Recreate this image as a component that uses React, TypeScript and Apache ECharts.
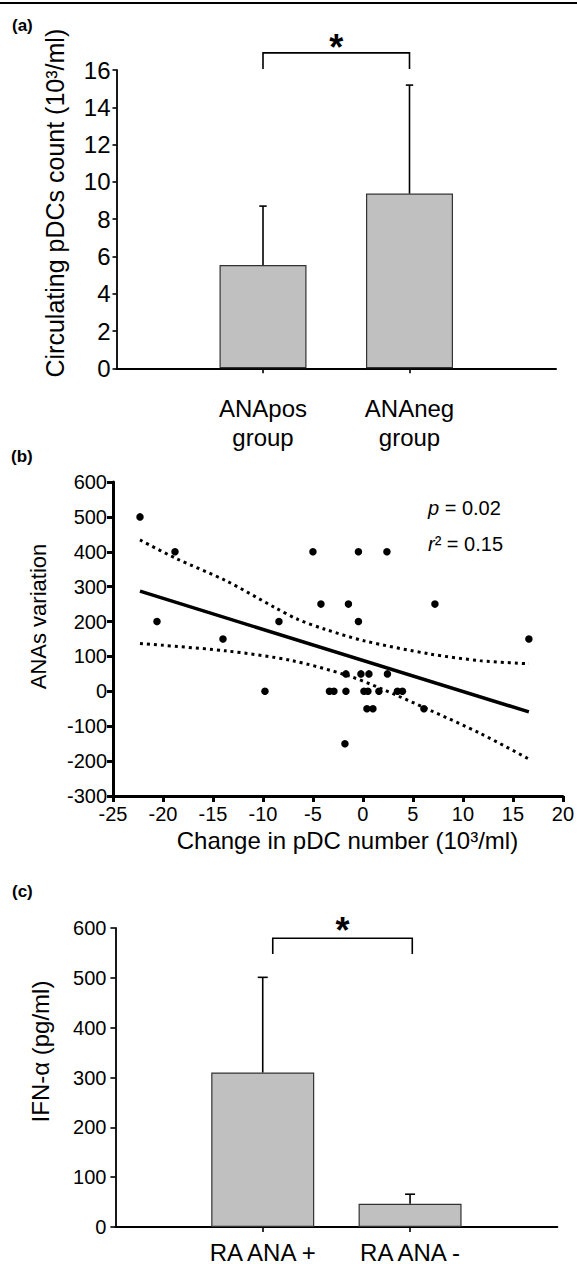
import React, { useEffect, useRef } from "react";
import * as echarts from "echarts";

// ---------- Panel (a) ----------
const A_GROUPS = ["", "ANApos\ngroup", "ANAneg\ngroup", ""];
const A_MEANS = [null, 5.54, 9.37, null];
const A_ERR_TOP = [null, 8.7, 15.19, null];
const A_Y_MIN = 0;
const A_Y_MAX = 16;
const A_Y_STEP = 2;
// bracket: [leftIndex, rightIndex, legBottom, top, leftOffset, rightOffset]
const A_BRACKET = [1, 2, 16.05, 16.92, 0.0, 0.0];

// ---------- Panel (b) ----------
const B_X = [
  -22.3, -18.8, -20.6, -14.0, -8.4, -9.8, -5.0, -0.45, 2.4, -4.2, -1.45, 7.2,
  -0.45, 16.6, -1.7, -0.2, 0.6, 2.45, -3.35, -2.9, -1.7, 0.1, 0.5, 1.6, 3.45,
  3.95, 0.4, 1.0, 6.1, -1.8,
];
const B_Y = [
  500, 400, 200, 150, 200, 0, 400, 400, 400, 250, 250, 250, 200, 150, 50, 50,
  50, 50, 0, 0, 0, 0, 0, 0, 0, 0, -50, -50, -50, -150,
];
const FIT_X = [-22.3, 16.6];
const FIT_Y = [287, -59];
const UPPER_X = [-22.3, -18.7, -13.7, -8.8, -6.5, -3.8, 0.1, 6.7, 11.7, 16.6];
const UPPER_Y = [434, 381, 317, 240, 206, 178, 145, 107, 88, 79];
const LOWER_X = [-22.3, -13.7, -7.1, -1.5, 1.8, 6.7, 11.7, 16.6];
const LOWER_Y = [137, 116, 88, 45, 8, -54, -120, -194];
const B_X_MIN = -25;
const B_X_MAX = 20;
const B_X_STEP = 5;
const B_Y_MIN = -300;
const B_Y_MAX = 600;
const B_Y_STEP = 100;

// ---------- Panel (c) ----------
const C_GROUPS = ["", "RA ANA +", "RA ANA -", ""];
const C_MEANS = [null, 310, 46.5, null];
const C_ERR_TOP = [null, 501, 65.8, null];
const C_Y_MIN = 0;
const C_Y_MAX = 600;
const C_Y_STEP = 100;
const C_BRACKET = [1, 2, 548, 579.4, 0.068, 0.015];

const FONT = "'Liberation Sans', Arial, Helvetica, sans-serif";

function pairs(xs: number[], ys: number[]) {
  return xs.map((x, i) => [x, ys[i]]);
}

function errorBars(xi: number, means: (number | null)[], tops: (number | null)[], halfCap: number) {
  const data: number[][] = [];
  means.forEach((m, i) => {
    if (m != null && tops[i] != null) data.push([i, m as number, tops[i] as number]);
  });
  return {
    type: "custom",
    xAxisIndex: xi,
    yAxisIndex: xi,
    data,
    encode: { x: 0, y: [1, 2] },
    z: 5,
    silent: true,
    renderItem: (_p: any, api: any) => {
      const x = api.value(0);
      const lo = api.coord([x, api.value(1)]);
      const hi = api.coord([x, api.value(2)]);
      const st = { stroke: "#000", lineWidth: 1.6 };
      return {
        type: "group",
        children: [
          { type: "line", shape: { x1: lo[0], y1: lo[1], x2: hi[0], y2: hi[1] }, style: st },
          { type: "line", shape: { x1: hi[0] - halfCap, y1: hi[1], x2: hi[0] + halfCap, y2: hi[1] }, style: st },
        ],
      };
    },
  };
}

function bracket(xi: number, b: number[], starLift: number) {
  return {
    type: "custom",
    xAxisIndex: xi,
    yAxisIndex: xi,
    data: [b],
    encode: { x: 0, y: 3 },
    z: 6,
    silent: true,
    renderItem: (_p: any, api: any) => {
      const a = api.coord([api.value(0), api.value(3)]);
      const c = api.coord([api.value(1), api.value(3)]);
      const legY = api.coord([api.value(0), api.value(2)])[1];
      const span = c[0] - a[0];
      const xl = a[0] + span * api.value(4);
      const xr = c[0] + span * api.value(5);
      return {
        type: "group",
        children: [
          {
            type: "polyline",
            shape: { points: [[xl, legY], [xl, a[1]], [xr, a[1]], [xr, legY]] },
            style: { stroke: "#000", lineWidth: 1.6, fill: null },
          },
          {
            type: "text",
            x: (xl + xr) / 2,
            y: a[1] - starLift,
            style: {
              text: "*",
              fill: "#000",
              fontSize: 36,
              fontWeight: "bold",
              fontFamily: FONT,
              align: "center",
              verticalAlign: "middle",
            },
          },
        ],
      };
    },
  };
}

export default function App() {
  const ref = useRef<HTMLDivElement>(null);
  useEffect(() => {
    if (!ref.current) return;
    const chart = echarts.init(ref.current, null, { renderer: "svg" });
    const black = "#000";
    const option: any = {
      animation: false,
      backgroundColor: "#fff",
      textStyle: { fontFamily: FONT, color: black },
      grid: [
        { left: 116.5, top: 70, width: 439.5, height: 298.3 },
        { left: 113, top: 482, width: 454, height: 314 },
        { left: 115.4, top: 928, width: 442, height: 301 },
      ],
      xAxis: [
        {
          gridIndex: 0,
          type: "category",
          data: A_GROUPS,
          boundaryGap: false,
          axisLine: { show: true, onZero: false, lineStyle: { color: black, width: 2 } },
          axisTick: { show: true, length: 5, interval: (i: number) => i === 1 || i === 2, lineStyle: { color: black, width: 1.6 } },
          axisLabel: { interval: 0, fontSize: 24, lineHeight: 29, margin: 26, color: black, fontFamily: FONT },
          splitLine: { show: false },
        },
        {
          gridIndex: 1,
          type: "value",
          min: B_X_MIN,
          max: B_X_MAX,
          interval: B_X_STEP,
          axisLine: { show: true, onZero: false, lineStyle: { color: black, width: 3 } },
          axisTick: { show: true, length: 6, lineStyle: { color: black, width: 3 } },
          axisLabel: { fontSize: 20, margin: 8, color: black, fontFamily: FONT },
          splitLine: { show: false },
          name: "Change in pDC number (10³/ml)",
          nameLocation: "middle",
          nameGap: 32,
          nameTextStyle: { fontSize: 24, color: black, fontFamily: FONT, padding: [0, 0, 0, 19] },
        },
        {
          gridIndex: 2,
          type: "category",
          data: C_GROUPS,
          boundaryGap: false,
          axisLine: { show: true, onZero: false, lineStyle: { color: black, width: 1.8 } },
          axisTick: { show: true, length: 5, interval: (i: number) => i === 1 || i === 2, lineStyle: { color: black, width: 1.6 } },
          axisLabel: { interval: 0, fontSize: 24, margin: 13, color: black, fontFamily: FONT },
          splitLine: { show: false },
        },
      ],
      yAxis: [
        {
          gridIndex: 0,
          type: "value",
          min: A_Y_MIN,
          max: A_Y_MAX,
          interval: A_Y_STEP,
          axisLine: { show: true, onZero: false, lineStyle: { color: black, width: 1.8 } },
          axisTick: { show: true, length: 4, lineStyle: { color: black, width: 1.6 } },
          axisLabel: { fontSize: 24, margin: 6, color: black, fontFamily: FONT },
          splitLine: { show: false },
          name: "Circulating pDCs count (10³/ml)",
          nameLocation: "middle",
          nameGap: 49,
          nameTextStyle: { fontSize: 25, color: black, fontFamily: FONT, padding: [0, 0, 0, 32] },
        },
        {
          gridIndex: 1,
          type: "value",
          min: B_Y_MIN,
          max: B_Y_MAX,
          interval: B_Y_STEP,
          axisLine: { show: true, onZero: false, lineStyle: { color: black, width: 3 } },
          axisTick: { show: true, length: 6, lineStyle: { color: black, width: 3 } },
          axisLabel: { fontSize: 20, margin: 6, color: black, fontFamily: FONT },
          splitLine: { show: false },
          name: "ANAs variation",
          nameLocation: "middle",
          nameGap: 64,
          nameTextStyle: { fontSize: 22, color: black, fontFamily: FONT, padding: [0, 0, 0, 45] },
        },
        {
          gridIndex: 2,
          type: "value",
          min: C_Y_MIN,
          max: C_Y_MAX,
          interval: C_Y_STEP,
          axisLine: { show: true, onZero: false, lineStyle: { color: black, width: 1.8 } },
          axisTick: { show: true, length: 5, lineStyle: { color: black, width: 1.6 } },
          axisLabel: { fontSize: 20, margin: 9, color: black, fontFamily: FONT },
          splitLine: { show: false },
          name: "IFN-α (pg/ml)",
          nameLocation: "middle",
          nameGap: 63,
          nameTextStyle: { fontSize: 24, color: black, fontFamily: FONT, padding: [0, 0, 0, 52] },
        },
      ],
      series: [
        {
          type: "bar",
          xAxisIndex: 0,
          yAxisIndex: 0,
          data: A_MEANS,
          barWidth: 87,
          itemStyle: { color: "#c0c0c0", borderColor: "#333", borderWidth: 1.2 },
          silent: true,
        },
        errorBars(0, A_MEANS, A_ERR_TOP, 3.7),
        bracket(0, A_BRACKET, 5),
        {
          type: "scatter",
          xAxisIndex: 1,
          yAxisIndex: 1,
          data: pairs(B_X, B_Y),
          symbol: "circle",
          symbolSize: 7.5,
          itemStyle: { color: black, opacity: 1 },
          z: 4,
        },
        {
          type: "line",
          xAxisIndex: 1,
          yAxisIndex: 1,
          data: pairs(FIT_X, FIT_Y),
          symbol: "none",
          lineStyle: { color: black, width: 3.5 },
          z: 3,
        },
        {
          type: "line",
          xAxisIndex: 1,
          yAxisIndex: 1,
          data: pairs(UPPER_X, UPPER_Y),
          symbol: "none",
          smooth: 0.3,
          lineStyle: { color: black, width: 3, type: [3, 4] },
          z: 3,
        },
        {
          type: "line",
          xAxisIndex: 1,
          yAxisIndex: 1,
          data: pairs(LOWER_X, LOWER_Y),
          symbol: "none",
          smooth: 0.3,
          lineStyle: { color: black, width: 3, type: [3, 4] },
          z: 3,
        },
        {
          type: "bar",
          xAxisIndex: 2,
          yAxisIndex: 2,
          data: C_MEANS,
          barWidth: 103,
          itemStyle: { color: "#c0c0c0", borderColor: "#333", borderWidth: 1.2 },
          silent: true,
        },
        errorBars(2, C_MEANS, C_ERR_TOP, 5),
        bracket(2, C_BRACKET, 8),
      ],
      graphic: [
        { type: "line", shape: { x1: 0, y1: 3, x2: 577, y2: 3 }, style: { stroke: black, lineWidth: 2 } },
        { type: "text", x: 12, y: 25, style: { text: "(a)", fontSize: 17, fontWeight: "bold", fontFamily: FONT, fill: black, verticalAlign: "middle" } },
        { type: "text", x: 11, y: 456, style: { text: "(b)", fontSize: 17, fontWeight: "bold", fontFamily: FONT, fill: black, verticalAlign: "middle" } },
        { type: "text", x: 12, y: 891, style: { text: "(c)", fontSize: 17, fontWeight: "bold", fontFamily: FONT, fill: black, verticalAlign: "middle" } },
        {
          type: "text",
          x: 428,
          y: 508,
          style: {
            text: "{i|p} = 0.02",
            fontSize: 20,
            fontFamily: FONT,
            fill: black,
            verticalAlign: "middle",
            rich: { i: { fontStyle: "italic", fontSize: 20, fontFamily: FONT } },
          },
        },
        {
          type: "text",
          x: 428,
          y: 544,
          style: {
            text: "{i|r}² = 0.15",
            fontSize: 20,
            fontFamily: FONT,
            fill: black,
            verticalAlign: "middle",
            rich: { i: { fontStyle: "italic", fontSize: 20, fontFamily: FONT } },
          },
        },
      ],
    };
    chart.setOption(option);
    return () => chart.dispose();
  }, []);
  return (
    <div
      ref={ref}
      style={{ position: "absolute", left: 0, top: 0, width: 577, height: 1264, background: "#fff" }}
    />
  );
}
